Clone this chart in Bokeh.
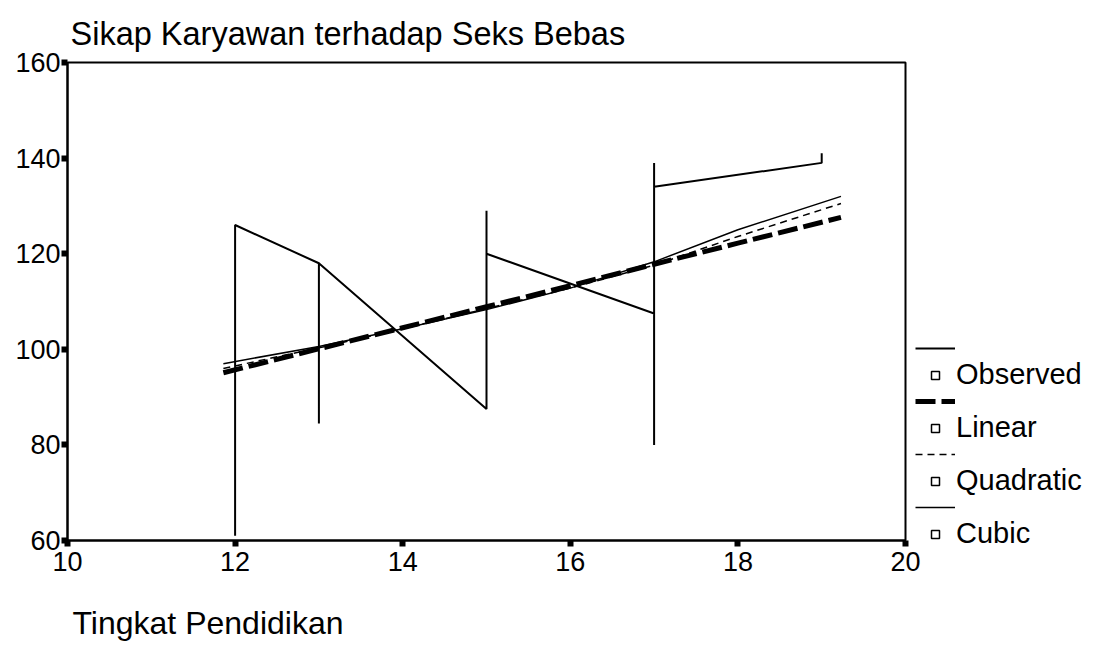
from bokeh.plotting import figure
from bokeh.models import Legend, LegendItem, Title, Range1d, FixedTicker
from bokeh.embed import file_html
from bokeh.resources import INLINE

# Observed data path (Tingkat Pendidikan vs Sikap), in SPSS plotting order
obs_x = [12, 12, 13, 13, 13, 15, 15, 15, 17, 17, 17, 17, 19, 19]
obs_y = [61, 126, 118, 84.5, 118, 87.5, 129, 120, 107.5, 80, 139, 134, 139, 141]

# Fitted curves
fit_x = [11.86, 13, 14, 15, 16, 17, 18, 19.23]
linear_y = [95.1, 100.1, 104.5, 108.9, 113.3, 117.8, 122.2, 127.6]
quadratic_y = [96.0, 100.3, 104.3, 108.5, 112.8, 117.6, 123.6, 130.5]
cubic_y = [97.0, 100.6, 104.3, 108.3, 112.8, 118.3, 125.0, 132.0]

x_ticks = [10, 12, 14, 16, 18, 20]
y_ticks = [60, 80, 100, 120, 140, 160]
series_labels = ["Observed", "Linear", "Quadratic", "Cubic"]

FONT = "Liberation Sans"

p = figure(frame_width=838, frame_height=478, x_range=Range1d(10, 20), y_range=Range1d(60, 160),
           output_backend="svg", toolbar_location=None,
           min_border_left=67, min_border_right=10, min_border_top=62, min_border_bottom=108)

p.background_fill_color = "white"
p.border_fill_color = "white"
p.outline_line_color = "black"
p.outline_line_width = 2
p.grid.visible = False

p.title.text = "Sikap Karyawan terhadap Seks Bebas"
p.title.text_font = FONT
p.title.text_font_size = "32.5px"
p.title.text_font_style = "normal"
p.title.text_color = "black"
p.title.align = "left"
p.title.offset = 3
p.title.standoff = 22

for ax, ticks in ((p.xaxis[0], x_ticks), (p.yaxis[0], y_ticks)):
    ax.ticker = FixedTicker(ticks=ticks)
    ax.axis_line_color = "black"
    ax.axis_line_width = 2
    ax.major_tick_in = 0
    ax.major_tick_out = 6
    ax.major_tick_line_width = 6
    ax.major_tick_line_color = "black"
    ax.minor_tick_out = 0
    ax.minor_tick_in = 0
    ax.major_label_text_font = FONT
    ax.major_label_text_font_size = "27px"
    ax.major_label_text_color = "black"
p.xaxis[0].major_label_standoff = 5
p.yaxis[0].major_label_standoff = 1

r_obs = p.line(obs_x, obs_y, line_color="black", line_width=2)
r_cub = p.line(fit_x, cubic_y, line_color="black", line_width=1.5)
r_quad = p.line(fit_x, quadratic_y, line_color="black", line_width=1.5, line_dash="7 5")
r_lin = p.line(fit_x, linear_y, line_color="black", line_width=5, line_dash="20 6")

# hidden marker renderers: only used to draw the small square in the legend
mk_obs = p.scatter(obs_x, obs_y, marker="square", size=7, fill_color="white",
                   line_color="black", line_width=1.5, visible=False)
mk_lin = p.scatter(fit_x, linear_y, marker="square", size=7, fill_color="white",
                   line_color="black", line_width=1.5, visible=False)
mk_quad = p.scatter(fit_x, quadratic_y, marker="square", size=7, fill_color="white",
                    line_color="black", line_width=1.5, visible=False)
mk_cub = p.scatter(fit_x, cubic_y, marker="square", size=7, fill_color="white",
                   line_color="black", line_width=1.5, visible=False)

items = []
for lab, lr, mr in zip(series_labels, [r_obs, r_lin, r_quad, r_cub],
                       [mk_obs, mk_lin, mk_quad, mk_cub]):
    items.append(LegendItem(label=" ", renderers=[lr]))
    items.append(LegendItem(label=lab, renderers=[mr]))

legend = Legend(items=items, location=(10, -10), glyph_width=40, glyph_height=20,
                label_standoff=1, spacing=0, padding=0, margin=0,
                border_line_color=None, background_fill_alpha=0,
                label_text_font=FONT, label_text_font_size="29px",
                label_text_color="black")
p.add_layout(legend, "right")

p.add_layout(Title(text="Tingkat Pendidikan", align="left", text_font=FONT,
                   text_font_size="32px", text_font_style="normal", text_color="black",
                   offset=5, standoff=59), "below")

open("out.html", "w").write(file_html(p, INLINE))
